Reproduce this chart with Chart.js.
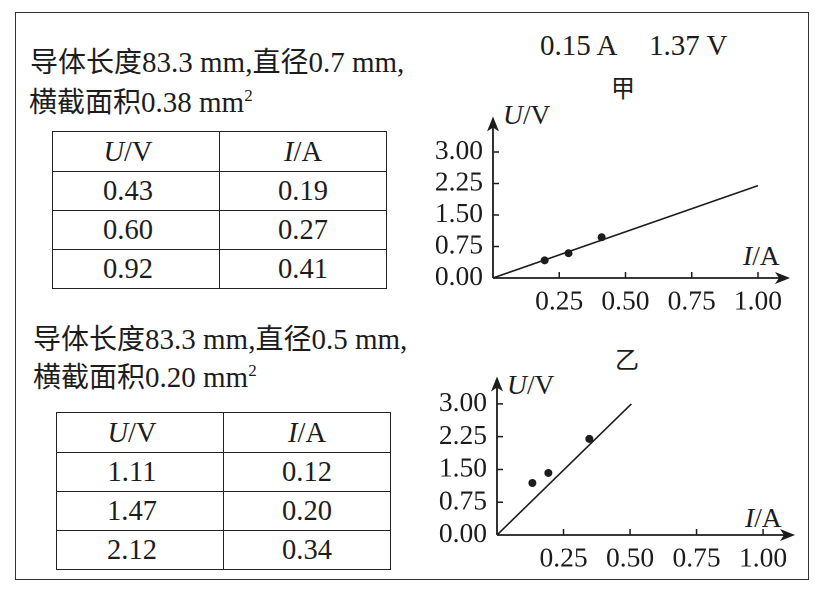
<!DOCTYPE html>
<html>
<head>
<meta charset="utf-8">
<script src="https://cdn.jsdelivr.net/npm/chart.js@4/dist/chart.umd.min.js"></script>
<style>
  html, body { margin:0; padding:0; background:#fff; }
  body { width:824px; height:592px; position:relative; overflow:hidden;
         font-family:"Liberation Serif","Noto Sans CJK SC",serif; color:#1c1c1c; }
  .abs { position:absolute; white-space:pre; }
  .cjk { font-family:"Noto Sans CJK SC",sans-serif; font-size:28px; }
  .txt { font-size:29px; line-height:36px; }
  .ttl { font-size:27.5px; line-height:36px; }
  .frame { position:absolute; left:15px; top:12px; width:794px; height:568px;
           border:1.6px solid #333; box-sizing:border-box; }
  table { position:absolute; border-collapse:collapse; font-size:28.5px; }
  td { border:1.6px solid #222; text-align:center; padding:0; line-height:36px; }
  td.c1 { padding-right:16px; }
  canvas { position:absolute; }
</style>
</head>
<body>
<div class="frame"></div>

<div class="abs txt" style="left:30px;top:42px;"><span class="cjk">导体长度</span>83.3 mm,<span class="cjk">直径</span>0.7 mm,</div>
<div class="abs txt" style="left:29px;top:82px;"><span class="cjk">横截面积</span>0.38 mm<sup style="font-size:17px;vertical-align:11px;line-height:0">2</sup></div>
<div class="abs txt" style="left:33px;top:319px;"><span class="cjk">导体长度</span>83.3 mm,<span class="cjk">直径</span>0.5 mm,</div>
<div class="abs txt" style="left:33px;top:357px;"><span class="cjk">横截面积</span>0.20 mm<sup style="font-size:17px;vertical-align:11px;line-height:0">2</sup></div>

<table id="tblA" style="left:52px;top:131px;width:335px;"></table>
<table id="tblB" style="left:56px;top:412px;width:335px;"></table>

<div class="abs txt" style="left:540px;top:27px;">0.15 A</div>
<div class="abs txt" style="left:649px;top:27px;">1.37 V</div>
<div class="abs" style="left:611px;top:72px;font-size:24px;line-height:30px;font-family:'Noto Sans CJK SC';">甲</div>
<div class="abs" style="left:615px;top:343px;font-size:24px;line-height:30px;font-family:'Noto Sans CJK SC';">乙</div>

<div class="abs ttl" style="left:503px;top:97px;"><i>U</i>/V</div>
<div class="abs ttl" style="left:743px;top:238px;"><i>I</i>/A</div>
<div class="abs ttl" style="left:507px;top:367px;"><i>U</i>/V</div>
<div class="abs ttl" style="left:745px;top:500px;"><i>I</i>/A</div>

<canvas id="cA" width="390" height="230" style="left:420px;top:90px;"></canvas>
<canvas id="cB" width="390" height="240" style="left:420px;top:350px;"></canvas>

<script>
// ---- table data ----
const tableA_U = ['0.43', '0.60', '0.92'];
const tableA_I = ['0.19', '0.27', '0.41'];
const tableB_U = ['1.11', '1.47', '2.12'];
const tableB_I = ['0.12', '0.20', '0.34'];

// ---- chart 甲 data ----
const chartA_pointI = [0.195, 0.285, 0.41];
const chartA_pointU = [0.42, 0.59, 0.97];
const chartA_lineI = [0, 1.0];
const chartA_lineU = [0, 2.2];

// ---- chart 乙 data ----
const chartB_pointI = [0.133, 0.193, 0.347];
const chartB_pointU = [1.19, 1.42, 2.20];
const chartB_lineI = [0, 0.505];
const chartB_lineU = [0, 3.0];

// ---- ticks ----
const xTickValues = [0.25, 0.50, 0.75, 1.00];
const yTickValues = [0, 0.75, 1.50, 2.25, 3.00];

function fillTable(id, us, is) {
  const t = document.getElementById(id);
  let html = '<tr style="height:40px"><td class="c1" style="width:50%"><i>U</i>/V</td><td><i>I</i>/A</td></tr>';
  for (let k = 0; k < us.length; k++) {
    html += '<tr style="height:39px"><td class="c1">' + us[k] + '</td><td>' + is[k] + '</td></tr>';
  }
  t.innerHTML = html;
}
fillTable('tblA', tableA_U, tableA_I);
fillTable('tblB', tableB_U, tableB_I);

const ink = '#1c1c1c';

const arrowAxes = {
  id: 'arrowAxes',
  beforeDatasetsDraw(chart) {
    const ctx = chart.ctx;
    const xs = chart.scales.x, ys = chart.scales.y;
    const ca = chart.chartArea;
    const x0 = xs.getPixelForValue(0), y0 = ys.getPixelForValue(0);
    ctx.save();
    ctx.strokeStyle = ink; ctx.fillStyle = ink; ctx.lineWidth = 1.8;
    ctx.beginPath();
    ctx.moveTo(x0, y0); ctx.lineTo(ca.right - 8, y0);
    ctx.moveTo(x0, y0); ctx.lineTo(x0, ca.top + 8);
    ctx.stroke();
    ctx.beginPath();
    ctx.moveTo(ca.right, y0); ctx.lineTo(ca.right - 15, y0 - 6);
    ctx.lineTo(ca.right - 11, y0); ctx.lineTo(ca.right - 15, y0 + 6); ctx.closePath();
    ctx.fill();
    ctx.beginPath();
    ctx.moveTo(x0, ca.top); ctx.lineTo(x0 - 6, ca.top + 15);
    ctx.lineTo(x0, ca.top + 11); ctx.lineTo(x0 + 6, ca.top + 15); ctx.closePath();
    ctx.fill();
    ctx.lineWidth = 1.5;
    ctx.beginPath();
    xTickValues.forEach(v => { const p = xs.getPixelForValue(v); ctx.moveTo(p, y0); ctx.lineTo(p, y0 - 6); });
    yTickValues.forEach(v => { if (v === 0) return; const p = ys.getPixelForValue(v); ctx.moveTo(x0, p); ctx.lineTo(x0 + 6, p); });
    ctx.stroke();
    ctx.restore();
  }
};

function makeChart(id, ptsI, ptsU, lnI, lnU, xMax, yMax, pad, yWidth, xHeight) {
  const pts = ptsI.map((v, k) => ({ x: v, y: ptsU[k] }));
  const ln = lnI.map((v, k) => ({ x: v, y: lnU[k] }));
  const tickFont = { family: 'Liberation Serif', size: 27.5 };
  return new Chart(document.getElementById(id), {
    type: 'scatter',
    data: {
      datasets: [
        { data: ln, showLine: true, borderColor: ink, borderWidth: 1.6, pointRadius: 0, fill: false },
        { data: pts, pointRadius: 4, pointBackgroundColor: ink, pointBorderColor: ink, pointBorderWidth: 0 }
      ]
    },
    options: {
      responsive: false,
      animation: false,
      devicePixelRatio: 2,
      layout: { padding: pad, autoPadding: false },
      plugins: { legend: { display: false }, tooltip: { enabled: false } },
      scales: {
        x: {
          type: 'linear', min: 0, max: xMax,
          afterBuildTicks: s => { s.ticks = xTickValues.map(v => ({ value: v })); },
          afterFit: s => { s.height = xHeight; },
          ticks: { font: tickFont, color: ink, padding: 8, maxRotation: 0, autoSkip: false,
                   callback: v => Number(v).toFixed(2) },
          grid: { display: false, drawTicks: false },
          border: { display: false }
        },
        y: {
          type: 'linear', min: 0, max: yMax,
          afterBuildTicks: s => { s.ticks = yTickValues.map(v => ({ value: v })); },
          afterFit: s => { s.width = yWidth; },
          ticks: { font: tickFont, color: ink, padding: 10, autoSkip: false,
                   callback: v => Number(v).toFixed(2) },
          grid: { display: false, drawTicks: false },
          border: { display: false }
        }
      }
    },
    plugins: [arrowAxes]
  });
}

makeChart('cA', chartA_pointI, chartA_pointU, chartA_lineI, chartA_lineU,
          1.1208, 3.844, { left: 0, right: 20, top: 15, bottom: 0 }, 73, 42);
makeChart('cB', chartB_pointI, chartB_pointU, chartB_lineI, chartB_lineU,
          1.12, 3.627, { left: 0, right: 15, top: 23, bottom: 0 }, 77, 55);
</script>
</body>
</html>
